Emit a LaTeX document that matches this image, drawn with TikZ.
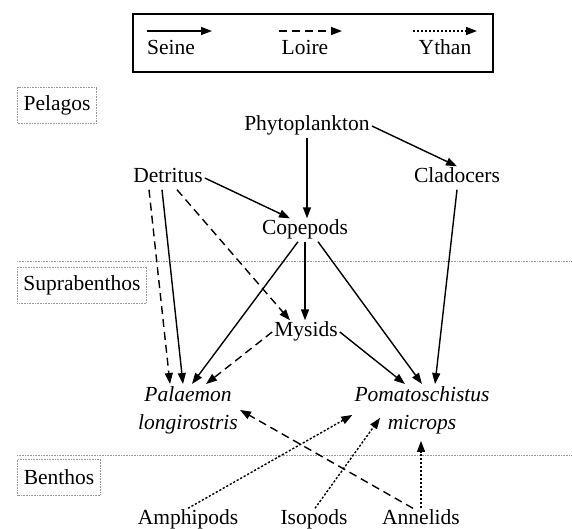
\documentclass[tikz,border=0pt]{standalone}
\usepackage{fontspec}
\setmainfont{Liberation Serif}
\usetikzlibrary{arrows.meta, positioning, calc}
\definecolor{zone}{RGB}{150,150,150}
\tikzstyle{taxon} = [text height=14pt, text depth=5pt, inner sep=2pt, align=center]
\tikzstyle{species} = [inner sep=2pt, align=center]
\tikzstyle{zonebox} = [draw=zone, densely dotted, line width=0.6pt, minimum height=36pt, inner xsep=6pt]
\tikzstyle{zoneline} = [draw=zone, densely dotted, line width=0.6pt]
\tikzstyle{seine} = [line width=1.4pt,-{Triangle[length=11pt,width=8pt]}]
\tikzstyle{loire} = [seine, dash pattern=on 8pt off 5pt]
\tikzstyle{ythan} = [seine, dash pattern=on 2.2pt off 1.8pt]

\begin{document}
\begin{tikzpicture}[x=1pt, y=-1pt, font=\fontsize{21.5}{28}\selectfont]
\useasboundingbox (0,0) rectangle (572,528);

% Legend
\node (legend) [draw, line width=1.7pt, minimum width=360pt, minimum height=58pt] at (313,43) {};
\coordinate (seineA) at (147,31); \coordinate (seineB) at (212,31);
\coordinate (loireA) at (279,31); \coordinate (loireB) at (342,31);
\coordinate (ythanA) at (413,31); \coordinate (ythanB) at (477,31);
\draw [seine] (seineA) -- (seineB);
\draw [loire] (loireA) -- (loireB);
\draw [ythan] (ythanA) -- (ythanB);
\node (seinetxt) [taxon] at (171,50) {Seine};
\node (loiretxt) [taxon] at (305,50) {Loire};
\node (ythantxt) [taxon] at (445,50) {Ythan};

% Zones
\node (pelagos) [zonebox] at (57,105) {Pelagos};
\node (supra) [zonebox] at (82,285) {Suprabenthos};
\node (benthos) [zonebox] at (59,477) {Benthos};
\coordinate (sepA) at (17,261); \coordinate (sepB) at (572,261);
\coordinate (sepC) at (17,455); \coordinate (sepD) at (572,455);
\draw [zoneline] (sepA) -- (sepB);
\draw [zoneline] (sepC) -- (sepD);

% Pelagic taxa
\node (phyto) [taxon] at (307,126) {Phytoplankton};
\node (detritus) [taxon] at (168,178) {Detritus};
\node (cladocers) [taxon] at (457,178) {Cladocers};
\node (copepods) [taxon] at (305,230) {Copepods};

% Suprabenthic taxa
\node (mysids) [taxon] at (306,332) {Mysids};
\node (palaemon) [species, anchor=north] at (188,384) {\textit{Palaemon}\\\textit{longirostris}};
\node (pomato) [species, anchor=north] at (422,384) {\textit{Pomatoschistus}\\\textit{microps}};

% Benthic taxa
\node (amphipods) [taxon] at (188,520) {Amphipods};
\node (isopods) [taxon] at (314,520) {Isopods};
\node (annelids) [taxon] at (421,520) {Annelids};

% Seine
\draw [seine] (phyto.south) -- (phyto.south |- copepods.north);
\draw [seine] (phyto.east) -- (cladocers.north);
\draw [seine] (detritus.east) -- ([xshift=-15pt]copepods.north);
\draw [seine] ([xshift=-6pt]detritus.south) -- ([xshift=-5pt]palaemon.north);
\draw [seine] (copepods.south) -- (copepods.south |- mysids.north);
\draw [seine] ([xshift=-7pt]copepods.south) -- ([xshift=4pt]palaemon.north);
\draw [seine] ([xshift=13pt]copepods.south) -- (pomato.north);
\draw [seine] (cladocers.south) -- ([xshift=13pt]pomato.north);
\draw [seine] (mysids.east) -- ([xshift=-17pt]pomato.north);

% Loire
\draw [loire] ([xshift=-19pt]detritus.south) -- ([xshift=-18pt]palaemon.north);
\draw [loire] ([xshift=9pt]detritus.south) -- ([xshift=-16pt]mysids.north);
\draw [loire] (mysids.west) -- ([xshift=18pt]palaemon.north);
\draw [loire] ([xshift=-8pt]annelids.north) -- (palaemon.east);

% Ythan
\draw [ythan] (amphipods.north) -- ([yshift=-5pt]pomato.west);
\draw [ythan] ([xshift=1pt]isopods.north) -- ([xshift=-42pt,yshift=-8pt]pomato.center);
\draw [ythan, shorten >=5pt] (annelids.north) -- (annelids.north |- pomato.south);

\end{tikzpicture}
\end{document}
